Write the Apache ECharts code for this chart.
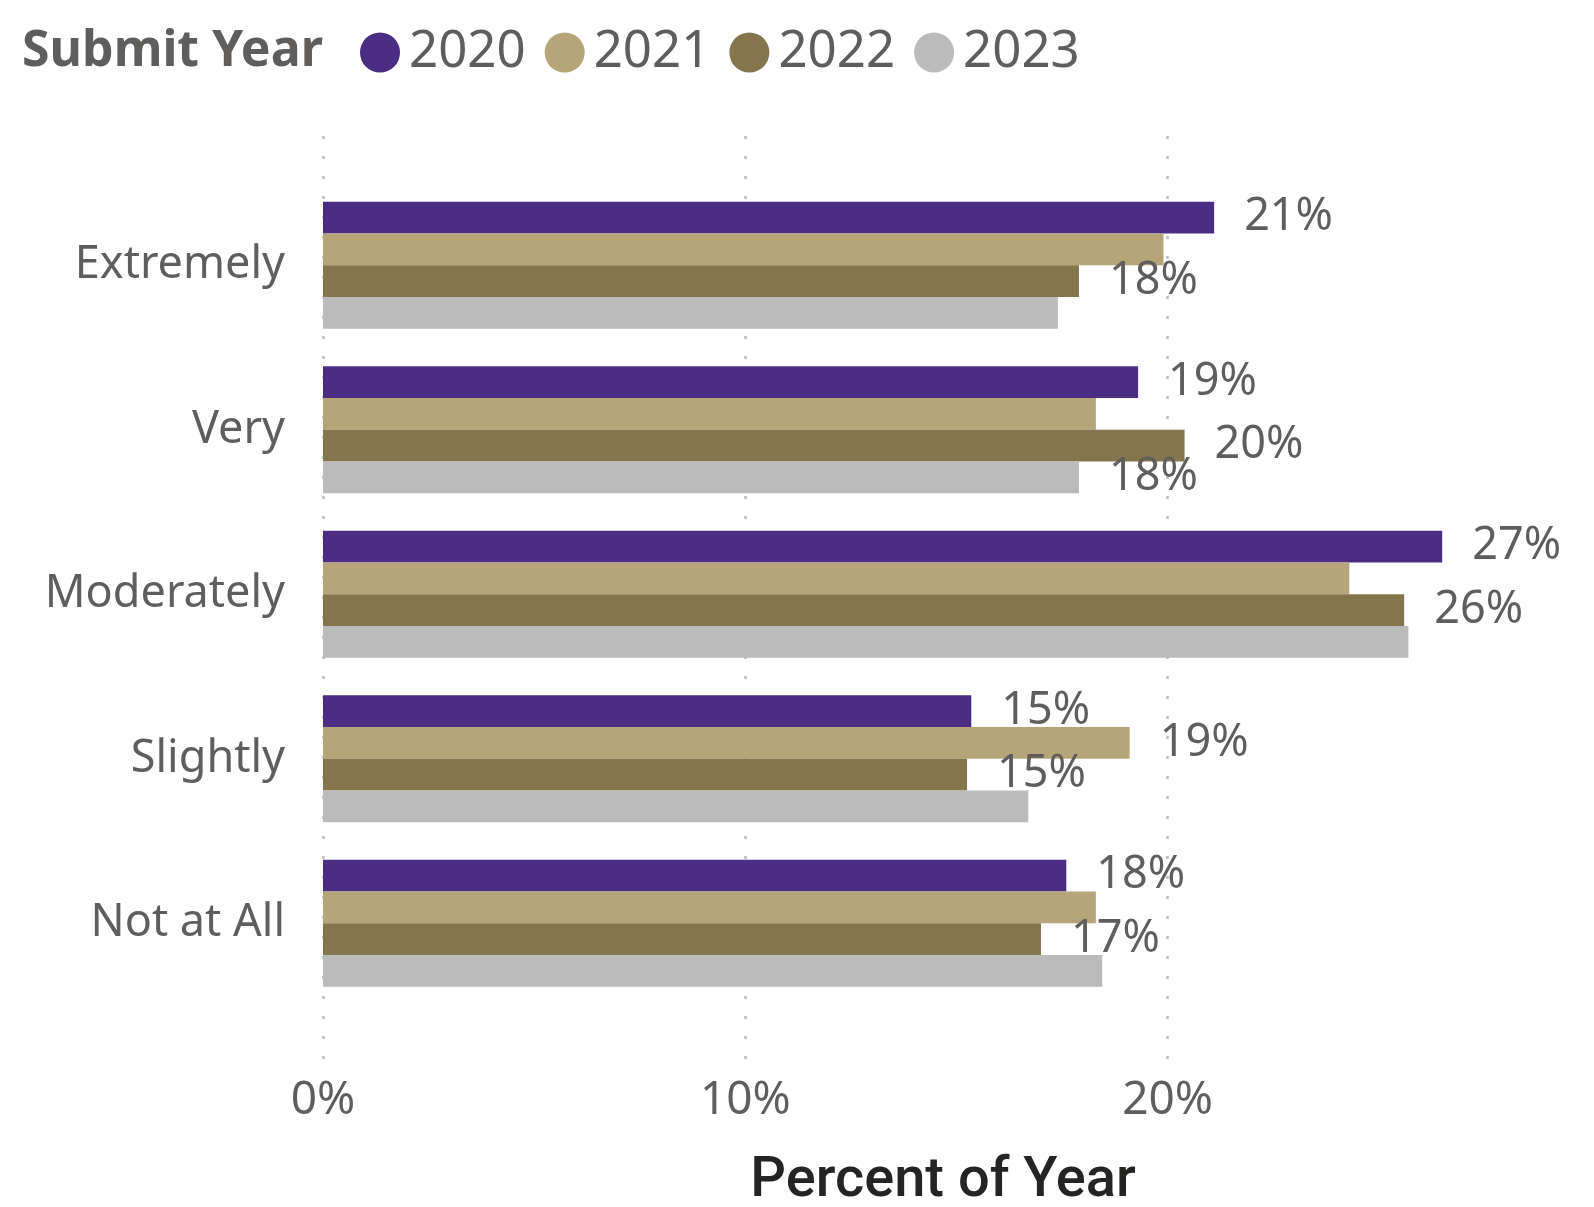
<!DOCTYPE html>
<html>
<head>
<meta charset="utf-8">
<script src="https://cdn.jsdelivr.net/npm/echarts@6/dist/echarts.min.js"></script>
<style>
  html, body { margin: 0; padding: 0; background: #fff; }
  #chart { width: 1594px; height: 1207px; }
</style>
</head>
<body>
<div id="chart"></div>
<script>
// categories, top to bottom
const categories = ["Extremely", "Very", "Moderately", "Slightly", "Not at All"];
const years = ["2020", "2021", "2022", "2023"];

// percent of year per category
const values2020 = [21.1, 19.3, 26.5, 15.35, 17.6];
const values2021 = [19.9, 18.3, 24.3, 19.1, 18.3];
const values2022 = [17.9, 20.4, 25.6, 15.25, 17.0];
const values2023 = [17.4, 17.9, 25.7, 16.7, 18.45];

// which data labels are visible (the rest are hidden by overlap in the original)
const labels2020 = [true, true, true, true, true];
const labels2021 = [false, false, false, true, false];
const labels2022 = [true, true, true, true, true];
const labels2023 = [false, true, false, false, false];

const xTicks = [0, 10, 20];
const xMax = 29.55;

const colors = ["#4B2E83", "#B7A57A", "#85754D", "#BBBBBB"];
const textColor = "#605E5C";
const font = "Noto Sans";

const allValues = [values2020, values2021, values2022, values2023];
const allLabels = [labels2020, labels2021, labels2022, labels2023];

const chart = echarts.init(document.getElementById("chart"));

const series = years.map((y, i) => ({
  name: y,
  type: "bar",
  xAxisIndex: 1,
  yAxisIndex: 1,
  barGap: "0%",
  barCategoryGap: "22.8%",
  itemStyle: { color: colors[i] },
  label: {
    position: "right",
    distance: 30,
    fontFamily: font,
    fontSize: 45,
    color: textColor,
    formatter: (p) => Math.round(p.value) + "%",
  },
  data: allValues[i].map((v, j) => ({ value: v, label: { show: allLabels[i][j] } })),
}));

const option = {
  animation: false,
  title: [
    {
      text: "Submit Year",
      left: 17,
      top: 22,
      textStyle: { fontFamily: font, fontSize: 50, fontWeight: "bold", color: textColor },
    },
    {
      // x axis title
      text: "Percent of Year",
      left: 943,
      textAlign: "center",
      top: 1154,
      padding: 0,
      textStyle: { fontFamily: "Roboto", fontWeight: 500, fontSize: 56, color: "#252423" },
    },
  ],
  legend: {
    data: years,
    left: 355,
    top: 22,
    icon: "circle",
    itemWidth: 40,
    itemHeight: 40,
    itemGap: 19,
    textStyle: { fontFamily: font, fontSize: 51, color: textColor, padding: [0, 0, 0, 4] },
  },
  grid: [
    // gridlines + value axis labels
    { left: 323, right: 23, top: 136, bottom: 148 },
    // bars
    { left: 323, right: 23, top: 183, bottom: 201.5 },
  ],
  xAxis: [
    {
      type: "value",
      gridIndex: 0,
      min: 0,
      max: xMax,
      interval: 10,
      axisLine: { show: false },
      axisTick: { show: false },
      axisLabel: {
        fontFamily: font,
        fontSize: 46,
        color: textColor,
        margin: 19,
        showMaxLabel: false,
        formatter: (v) => (xTicks.includes(v) ? v + "%" : ""),
      },
      splitLine: {
        show: true,
        showMaxLine: false,
        lineStyle: { color: "#BEBBB8", width: 2.5, type: [3, 17] },
      },
    },
    {
      type: "value",
      gridIndex: 1,
      min: 0,
      max: xMax,
      show: false,
      splitLine: { show: false },
    },
  ],
  yAxis: [
    { type: "value", gridIndex: 0, show: false },
    {
      type: "category",
      gridIndex: 1,
      data: categories,
      inverse: true,
      axisLine: { show: false },
      axisTick: { show: false },
      axisLabel: { fontFamily: font, fontSize: 45, color: textColor, margin: 38, padding: [11, 0, 0, 0] },
    },
  ],
  series: series,
};

chart.setOption(option);
</script>
</body>
</html>
